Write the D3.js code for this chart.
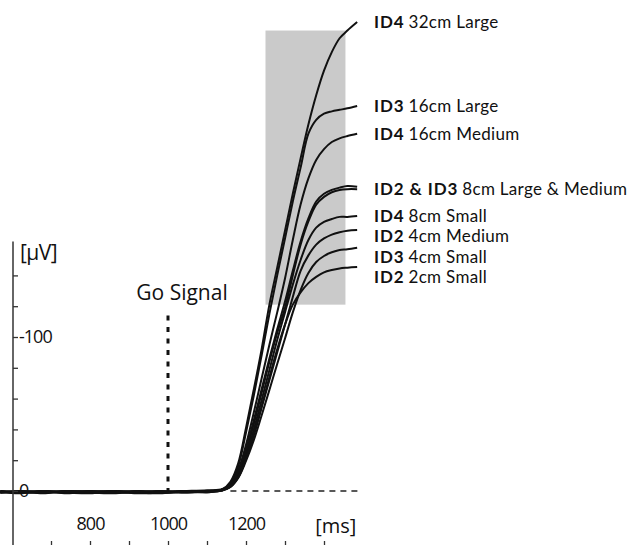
<!DOCTYPE html>
<html><head><meta charset="utf-8">
<script src="https://cdn.jsdelivr.net/npm/d3@7"></script>
<style>body{margin:0;background:#fff}svg{display:block}text{font-family:"Open Sans",sans-serif;fill:#111}</style>
</head><body><svg id="c" width="633" height="545"></svg>
<script>
// time points (ms)
const times = [570,620,680,740,800,860,920,980,1040,1100,1140,1160,1180,1200,1220,1240,1260,1280,1300,1320,1340,1360,1380,1400,1420,1440,1460,1485];
// amplitudes (µV), negative up
const id4_32L = [0.5,1,0,1.5,0.5,1,0,0.5,0,-0.5,-1.3,-6,-18,-41,-66,-92,-121,-145,-169,-193,-216,-238,-257,-273,-285,-294,-299,-304.5];
const id3_16L = [1,0.5,1.5,0,1,0.5,1,0,0.5,0,-1,-5,-16,-38,-62,-88,-115,-140,-164,-188,-210,-232,-241,-245,-246.5,-247.5,-248.5,-250];
const id4_16M = [0,1,0.5,1,1.5,0,0.5,1,0.5,0.5,-0.5,-4.5,-13.6,-30,-51,-73,-95,-116,-138,-163,-186,-203,-215,-222,-226.6,-229,-230.5,-232];
const id2_8L  = [1,0,1,0.5,0,1,0.5,1,0,0.5,-0.5,-3,-11,-25,-43.5,-63.6,-84,-102.6,-119,-140,-160,-175,-186,-191,-194,-195.5,-196,-196];
const id3_8M  = [0.5,1.5,0,1,0.5,0,1,0.5,1,0,-1,-3.5,-12,-27,-46,-66,-86,-105,-123,-143,-162,-177,-188,-193,-195.5,-197,-198,-197.5];
const id4_8S  = [0,0.5,1,0,1,1.5,0.5,0,1,0.5,-1,-3,-10,-23,-40,-59,-78.6,-98,-116,-134,-150,-163,-171,-174.7,-176.6,-178,-178,-178.6];
const id2_4M  = [1,0,0.5,1,0,0.5,1.5,1,0.5,0,-0.5,-2.6,-9,-21,-36,-54,-72,-90,-108,-126,-143,-153,-160,-164,-166.5,-168,-169,-169.5];
const id3_4S  = [0.5,1,0,0.5,1,0,1,1.5,0,1,-1,-2.6,-8.4,-19.5,-33,-49,-65.6,-82.5,-99,-116,-130.5,-141.6,-148.7,-152.6,-155,-156.5,-157,-158];
const id2_2S  = [1,0.5,1,0,0.5,1,0,1,0.5,0.5,-0.5,-3,-9,-21,-37,-55,-74,-92,-108,-121,-129,-135,-139,-142,-143.5,-144.5,-145,-145.5];
const series = [id4_32L,id3_16L,id4_16M,id2_8L,id3_8M,id4_8S,id2_4M,id3_4S,id2_2S];
// labels: bold part, regular part, index of series it annotates
const labelBold = ["ID4","ID3","ID4","ID2 & ID3","ID4","ID2","ID3","ID2"];
const labelRest = ["32cm Large","16cm Large","16cm Medium","8cm Large & Medium","8cm Small","4cm Medium","4cm Small","2cm Small"];
const labelSeries = [0,1,2,3,5,6,7,8];
const xTicks = [700,800,900,1000,1100,1200,1300,1400];
const xTickLabels = [800,1000,1200];
const yTicks = [0,-20,-40,-60,-80,-100,-120,-140];
const yTickLabels = [0,-100];
const goSignal = 1000;
const windowRange = [1250,1455];
const windowAmp = [-121,-299];

const svg = d3.select("#c");
const x = d3.scaleLinear().domain([800,1200]).range([90,246]);
const y = d3.scaleLinear().domain([0,-100]).range([491,337]);

// grey window
svg.append("rect").attr("x",x(windowRange[0])).attr("y",y(windowAmp[1]))
  .attr("width",x(windowRange[1])-x(windowRange[0])).attr("height",y(windowAmp[0])-y(windowAmp[1]))
  .attr("fill","#cacaca");

// zero dashed line
svg.append("line").attr("x1",x(1160)).attr("x2",x(1490)).attr("y1",y(0)).attr("y2",y(0))
  .attr("stroke","#222").attr("stroke-width",1.5).attr("stroke-dasharray","6,5");

// go signal
svg.append("line").attr("x1",x(goSignal)).attr("x2",x(goSignal)).attr("y1",y(-114)).attr("y2",y(0))
  .attr("stroke","#111").attr("stroke-width",3).attr("stroke-dasharray","5,6.5");
svg.append("text").attr("x",x(goSignal)+14).attr("y",y(-124)).attr("text-anchor","middle")
  .attr("font-size",21).text("Go Signal");

// curves
const line = d3.line().x((d,i)=>x(times[i])).y(d=>y(d)).curve(d3.curveCatmullRom.alpha(0.5));
svg.append("g").selectAll("path").data(series).join("path")
  .attr("d",line).attr("fill","none").attr("stroke","#111").attr("stroke-width",2);

// y axis
const yAxis = d3.axisRight(y).tickValues(yTicks).tickSize(5).tickPadding(1)
  .tickFormat(d=>yTickLabels.includes(d)?String(d).replace("−","-"):"");
const gy = svg.append("g").attr("transform","translate(13,0)").call(yAxis);
gy.select(".domain").remove();
gy.selectAll(".tick line").attr("stroke","#333").attr("stroke-width",1.3);
gy.selectAll(".tick text").attr("font-family","Open Sans").attr("font-size",18).attr("fill","#111").attr("letter-spacing","-1");
svg.append("line").attr("x1",13).attr("x2",13).attr("y1",y(-162)).attr("y2",545).attr("stroke","#333").attr("stroke-width",1.5);
svg.append("text").attr("x",20).attr("y",y(-150)).attr("font-size",21).attr("letter-spacing","-0.5").text("[µV]");

// x axis
const xAxis = d3.axisTop(x).tickValues(xTicks).tickSize(4).tickPadding(11)
  .tickFormat(d=>xTickLabels.includes(d)?String(d):"");
const gx = svg.append("g").attr("transform","translate(0,545)").call(xAxis);
gx.select(".domain").remove();
gx.selectAll(".tick line").attr("stroke","#333").attr("stroke-width",1.3);
gx.selectAll(".tick text").attr("font-family","Open Sans").attr("font-size",18).attr("fill","#111").attr("letter-spacing","-1");
svg.append("text").attr("x",x(1430)).attr("y",533).attr("text-anchor","middle").attr("font-size",20).text("[ms]");

// labels with simple collision avoidance
const ends = labelSeries.map(i=>y(series[i][series[i].length-1])+6);
for(let i=1;i<ends.length;i++){ if(ends[i]-ends[i-1]<20.5) ends[i]=ends[i-1]+20.5; }
const lab = svg.append("g").selectAll("text").data(labelBold).join("text")
  .attr("x",374).attr("y",(d,i)=>ends[i]).style("font-family","Lato, 'Open Sans', sans-serif");
lab.append("tspan").attr("font-weight",700).attr("font-size",17).attr("letter-spacing","0.9").text(d=>d);
lab.append("tspan").attr("font-size",17).attr("letter-spacing","0.3").attr("dx",4).text((d,i)=>labelRest[i]);
</script></body></html>
